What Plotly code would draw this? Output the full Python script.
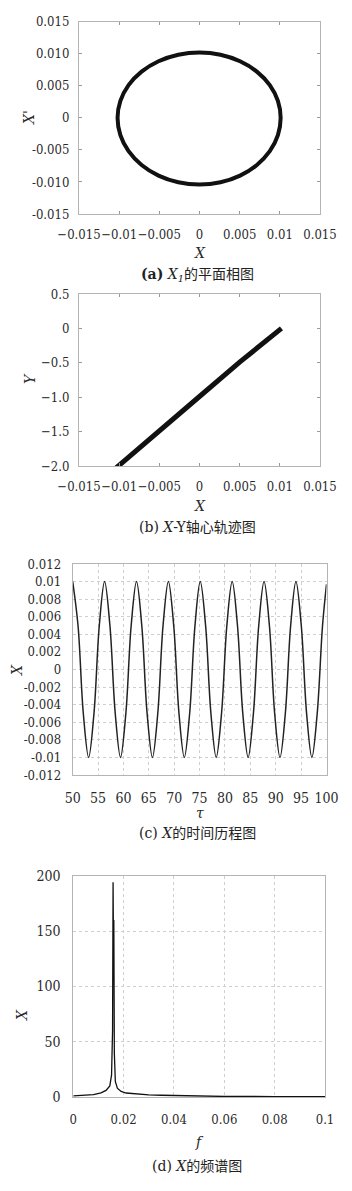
import plotly.graph_objects as go

W, H = 352, 1191

# ---------------- data ----------------
phase_x = [0.0101, 0.00976, 0.00875, 0.00714, 0.00505, 0.00261, 0.0, -0.00264, -0.0051,
           -0.00721, -0.00883, -0.00985, -0.0102, -0.00985, -0.00883, -0.00721, -0.0051,
           -0.00264, 0.0, 0.00261, 0.00505, 0.00714, 0.00875, 0.00976, 0.0101]
phase_v = [0.0, 0.00264, 0.0051, 0.00721, 0.00883, 0.00985, 0.0102, 0.00985, 0.00883,
           0.00721, 0.0051, 0.00264, 0.0, -0.00269, -0.0052, -0.00735, -0.00901,
           -0.01005, -0.0104, -0.01005, -0.00901, -0.00735, -0.0052, -0.00269, 0.0]

orbit_x = [-0.0104, -0.005, 0.0, 0.005, 0.0102]
orbit_y = [-2.03, -1.50, -0.99, -0.49, 0.0]

tau = [50.0, 51.05, 52.09, 53.14, 54.19, 55.24, 56.28, 57.33, 58.38, 59.42, 60.47, 61.52,
       62.57, 63.61, 64.66, 65.71, 66.76, 67.80, 68.85, 69.90, 70.94, 71.99, 73.04, 74.09,
       75.13, 76.18, 77.23, 78.27, 79.32, 80.37, 81.42, 82.46, 83.51, 84.56, 85.60, 86.65,
       87.70, 88.75, 89.79, 90.84, 91.89, 92.94, 93.98, 95.03, 96.08, 97.12, 98.17, 99.22,
       100.0]
x_tau = [0.01, 0.005, -0.005, -0.01, -0.005, 0.005,
         0.01, 0.005, -0.005, -0.01, -0.005, 0.005,
         0.01, 0.005, -0.005, -0.01, -0.005, 0.005,
         0.01, 0.005, -0.005, -0.01, -0.005, 0.005,
         0.01, 0.005, -0.005, -0.01, -0.005, 0.005,
         0.01, 0.005, -0.005, -0.01, -0.005, 0.005,
         0.01, 0.005, -0.005, -0.01, -0.005, 0.005,
         0.01, 0.005, -0.005, -0.01, -0.005, 0.005,
         0.0097]

freq = [0.0, 0.004, 0.008, 0.011, 0.013, 0.0145, 0.0152, 0.0156, 0.0158, 0.0160, 0.0161,
        0.0163, 0.0167, 0.0175, 0.019, 0.021, 0.025, 0.03, 0.035, 0.04, 0.045, 0.05,
        0.055, 0.06, 0.08, 0.1]
amp = [1.0, 1.3, 2.2, 3.8, 6.0, 10.0, 20.0, 60.0, 194.0, 120.0, 160.0, 40.0, 14.0, 8.0,
       5.0, 3.6, 2.6, 2.0, 1.6, 1.3, 1.1, 0.8, 0.6, 0.5, 0.4, 0.3]

a_x_vals = [-0.015, -0.01, -0.005, 0, 0.005, 0.01, 0.015]
a_x_text = ["\u22120.015", "\u22120.01", "\u22120.005", "0", "0.005", "0.01", "0.015"]
a_y_vals = [0.015, 0.010, 0.005, 0, -0.005, -0.010, -0.015]
a_y_text = ["0.015", "0.010", "0.005", "0", "-0.005", "-0.010", "-0.015"]
b_y_vals = [0.5, 0, -0.5, -1.0, -1.5, -2.0]
b_y_text = ["0.5", "0", "\u22120.5", "\u22121.0", "\u22121.5", "\u22122.0"]
c_x_vals = [50, 55, 60, 65, 70, 75, 80, 85, 90, 95, 100]
c_x_text = ["50", "55", "60", "65", "70", "75", "80", "85", "90", "95", "100"]
c_y_vals = [0.012, 0.01, 0.008, 0.006, 0.004, 0.002, 0, -0.002, -0.004, -0.006, -0.008, -0.01, -0.012]
c_y_text = ["0.012", "0.01", "0.008", "0.006", "0.004", "0.002", "0", "-0.002", "-0.004",
            "-0.006", "-0.008", "-0.01", "-0.012"]
d_x_vals = [0, 0.02, 0.04, 0.06, 0.08, 0.1]
d_x_text = ["0", "0.02", "0.04", "0.06", "0.08", "0.1"]
d_y_vals = [0, 50, 100, 150, 200]
d_y_text = ["0", "50", "100", "150", "200"]

axis_titles_x = ["<i>X</i>", "<i>X</i>", "<i>τ</i>", "<i>f</i>"]
axis_titles_y = ["<i>X'</i>", "<i>Y</i>", "<i>X</i>", "<i>X</i>"]
captions = ["<b>(a)</b> <i>X</i><sub><i>1</i></sub>的平面相图",
            "(b) <i>X</i>-Y轴心轨迹图",
            "(c) <i>X</i>的时间历程图",
            "(d) <i>X</i>的频谱图"]

FONT_C = "'DejaVu Serif Condensed', 'DejaVu Serif', 'Noto Sans CJK SC'"
FONT = "'DejaVu Serif', 'Noto Sans CJK SC'"
TICKC = "#2a2a2a"
AXC = "#b4b4b4"
GRIDC = "#cfcfcf"

fig = go.Figure()
fig.add_trace(go.Scatter(x=phase_x, y=phase_v, mode="lines", line=dict(color="#111", width=4, shape="spline"),
                         xaxis="x", yaxis="y"))
fig.add_trace(go.Scatter(x=orbit_x, y=orbit_y, mode="lines", line=dict(color="#111", width=5),
                         xaxis="x2", yaxis="y2"))
fig.add_trace(go.Scatter(x=tau, y=x_tau, mode="lines", line=dict(color="#222", width=1.5, shape="spline"),
                         xaxis="x3", yaxis="y3"))
fig.add_trace(go.Scatter(x=freq, y=amp, mode="lines", line=dict(color="#111", width=1.3),
                         xaxis="x4", yaxis="y4"))


def px_x(a, b):
    return [a / W, b / W]


def px_y(top, bottom):
    return [1 - bottom / H, 1 - top / H]


def ax(domain, rng, vals, text, anchor, grid=False, ticks="inside", lab_off=2, size=13):
    return dict(domain=domain, range=rng, tickmode="array", tickvals=vals, ticktext=text,
                showline=True, linecolor=AXC, linewidth=1, mirror="ticks" if ticks else True,
                ticks=ticks, ticklen=3, tickcolor="#999", zeroline=False, tickangle=0,
                ticklabelstandoff=lab_off,
                showgrid=grid, gridcolor=GRIDC, griddash="dot", gridwidth=1, automargin=False,
                tickfont=dict(family=FONT_C, size=size, color=TICKC),
                anchor=anchor, fixedrange=True)


layout = dict(
    template="none",
    width=W, height=H, margin=dict(l=0, r=0, t=0, b=0), showlegend=False,
    paper_bgcolor="white", plot_bgcolor="white",
    xaxis=ax(px_x(79, 320), [-0.015, 0.015], a_x_vals, a_x_text, "y", lab_off=8),
    yaxis=ax(px_y(21.7, 214), [-0.015, 0.015], a_y_vals, a_y_text, "x", lab_off=6),
    xaxis2=ax(px_x(79, 320), [-0.015, 0.015], a_x_vals, a_x_text, "y2", lab_off=8),
    yaxis2=ax(px_y(294, 466), [-2.0, 0.5], b_y_vals, b_y_text, "x2", lab_off=6),
    xaxis3=ax(px_x(72.7, 326.5), [50, 100], c_x_vals, c_x_text, "y3", grid=True, ticks="",
              lab_off=10, size=14),
    yaxis3=ax(px_y(564, 775), [-0.012, 0.012], c_y_vals, c_y_text, "x3", grid=True, ticks="",
              lab_off=8),
    xaxis4=ax(px_x(73.3, 325), [0, 0.1], d_x_vals, d_x_text, "y4", grid=True, ticks="",
              lab_off=10),
    yaxis4=ax(px_y(875.7, 1097), [0, 200], d_y_vals, d_y_text, "x4", grid=True, ticks="",
              lab_off=9, size=14),
)
fig.update_layout(**layout)

# axis titles (pixel centres)
xt_pos = [(199.5, 253), (199.5, 506), (199.6, 813), (199, 1142)]
yt_pos = [(29, 118), (30, 378), (17, 670), (22, 1015)]
for t, (px, py) in zip(axis_titles_x, xt_pos):
    fig.add_annotation(text=t, x=px / W, y=1 - py / H, xref="paper", yref="paper",
                       showarrow=False, xanchor="center", yanchor="middle",
                       font=dict(family=FONT, size=14, color=TICKC))
for t, (px, py) in zip(axis_titles_y, yt_pos):
    fig.add_annotation(text=t, x=px / W, y=1 - py / H, xref="paper", yref="paper",
                       showarrow=False, xanchor="center", yanchor="middle", textangle=-90,
                       font=dict(family=FONT, size=14, color=TICKC))

cap_y = [275, 527, 833, 1166]
cap_x = [197, 197, 197, 197]
for t, cy, cx in zip(captions, cap_y, cap_x):
    fig.add_annotation(text=t, x=cx / W, y=1 - cy / H, xref="paper", yref="paper",
                       showarrow=False, xanchor="center", yanchor="middle",
                       font=dict(family=FONT, size=14, color="#222"))

fig.write_html("out.html", post_script="document.body.style.margin='0';",
               config={"displayModeBar": False})
